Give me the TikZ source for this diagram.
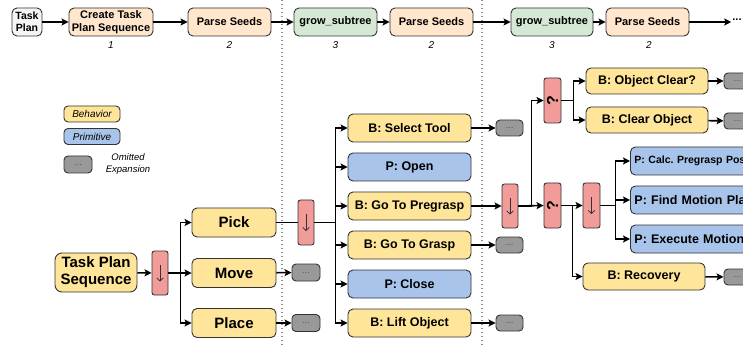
\documentclass[tikz,border=0pt]{standalone}
\usepackage{fontspec}
\setmainfont{Liberation Sans}
\usetikzlibrary{arrows.meta}
\definecolor{behY}{HTML}{FFE599}
\definecolor{primB}{HTML}{A9C4EB}
\definecolor{seqR}{HTML}{F19C99}
\definecolor{omG}{HTML}{999999}
\definecolor{peachT}{HTML}{FFE6CC}
\definecolor{greenT}{HTML}{D5E8D4}
\definecolor{tpG}{HTML}{F5F5F5}
\definecolor{edgeC}{HTML}{333333}
\frenchspacing
\begin{document}
\begin{tikzpicture}[x=1pt,y=-1pt,
 base/.style={draw=edgeC, line width=0.9pt, rounded corners=5pt, inner sep=0pt, align=center},
 beh/.style={base, fill=behY, minimum width=123pt, minimum height=28pt, font=\fontsize{12.5}{14}\selectfont\bfseries},
 prim/.style={beh, fill=primB},
 primclip/.style={prim, anchor=west, minimum width=135pt, text width=127pt, align=left},
 big/.style={base, fill=behY, minimum width=84pt, minimum height=29pt, font=\fontsize{15}{17}\selectfont\bfseries},
 omit/.style={base, fill=omG, rounded corners=4pt, minimum width=27pt, minimum height=16pt, font=\fontsize{9.5}{10}\selectfont\color{black!65}},
 redbox/.style={base, fill=seqR, rounded corners=2.5pt, minimum width=16pt, minimum height=44pt},
 seqbox/.style={redbox, path picture={\draw[line width=0.8pt, -{Straight Barb[length=3pt,width=6.5pt]}]
    ([yshift=8pt]path picture bounding box.center) -- ([yshift=-8.5pt]path picture bounding box.center);}},
 fbbox/.style={redbox, font=\fontsize{16}{18}\selectfont\bfseries},
 topbox/.style={base, minimum height=28pt, font=\fontsize{11}{12.5}\selectfont\bfseries},
 num/.style={font=\fontsize{10}{12}\selectfont\itshape},
 legbox/.style={base, rounded corners=4pt, minimum width=56pt, minimum height=16pt, font=\fontsize{10}{12}\selectfont\itshape},
 arr/.style={line width=1.6pt, -{Stealth[length=7pt,width=7pt,inset=1.5pt]}},
 plain/.style={line width=1.6pt},
 sep/.style={draw=black!45, line width=1.2pt, dash pattern=on 1.2pt off 2.8pt}
]
\clip (0,0) rectangle (743,347);
\fill[white] (0,0) rectangle (743,347);

% separators
\coordinate (sepAtop) at (282,0);
\coordinate (sepAbot) at (282,347);
\coordinate (sepBtop) at (482,0);
\coordinate (sepBbot) at (482,347);
\draw[sep] (sepAtop) -- (sepAbot);
\draw[sep] (sepBtop) -- (sepBbot);

% top row
\node[topbox, fill=tpG, minimum width=30pt, font=\fontsize{10.5}{12}\selectfont\bfseries] (tp) at (27,22) {Task\\Plan};
\node[topbox, fill=peachT, minimum width=84pt, font=\fontsize{11}{12.5}\selectfont\bfseries] (cts) at (111,22) {Create Task\\Plan Sequence};
\node[topbox, fill=peachT, minimum width=83pt] (ps1) at (229.5,22) {Parse Seeds};
\node[topbox, fill=greenT, minimum width=83pt] (gs1) at (335.5,22) {grow\_subtree};
\node[topbox, fill=peachT, minimum width=83pt] (ps2) at (431.5,22) {Parse Seeds};
\node[topbox, fill=greenT, minimum width=82pt] (gs2) at (552,22) {grow\_subtree};
\node[topbox, fill=peachT, minimum width=83pt] (ps3) at (647.5,22) {Parse Seeds};
\node[font=\fontsize{11}{12}\selectfont\bfseries, inner sep=1pt] (more) at (737,20) {...};
\node[num] (n1) at (111,45) {1};
\node[num] (n2) at (229.5,45) {2};
\node[num] (n3) at (335.5,45) {3};
\node[num] (n4) at (431.5,45) {2};
\node[num] (n5) at (552,45) {3};
\node[num] (n6) at (649,45) {2};
\draw[arr] (tp) -- (cts);
\draw[arr] (cts) -- (ps1);
\draw[arr] (ps1) -- (gs1);
\draw[arr] (gs1) -- (ps2);
\draw[arr] (ps2) -- (gs2);
\draw[arr] (gs2) -- (ps3);
\draw[arr] (ps3.east) -- (more.west |- ps3.east);

% legend
\node[legbox, fill=behY] (lb) at (92,114) {Behavior};
\node[legbox, fill=primB] (lp) at (92,136.5) {Primitive};
\node[omit, minimum width=28pt, minimum height=17pt] (lo) at (78,164.5) {...};
\node[font=\fontsize{9.5}{11.5}\selectfont\itshape, align=center] (lot) at (128,164) {Omitted\\Expansion};

% main tree
\node[big, minimum width=82pt, minimum height=39pt, rounded corners=7pt] (tps) at (96,272.5) {Task Plan\\Sequence};
\node[seqbox] (s1) at (160,273) {};
\node[big] (pick) at (234,222.5) {Pick};
\node[big] (move) at (234,273) {Move};
\node[big] (place) at (234,323) {Place};
\node[omit, minimum width=28pt, minimum height=17pt] (omMove) at (306,272.5) {...};
\node[omit, minimum width=28pt, minimum height=17pt] (omPlace) at (306,323) {...};
\node[seqbox, minimum height=45pt] (s2) at (306,222.5) {};

\draw[arr] (tps) -- (s1);
\draw[arr] (s1.east) -- ++(12,0) |- (pick.west);
\draw[arr] (s1.east) -- (move.west);
\draw[arr] (s1.east) -- ++(12,0) |- (place.west);
\draw[arr] (move) -- (omMove);
\draw[arr] (place) -- (omPlace);
\draw[plain] (pick) -- (s2);

\node[beh] (selt) at (409.5,128) {B: Select Tool};
\node[prim] (open) at (409.5,167) {P: Open};
\node[beh] (gtp) at (409.5,206) {B: Go To Pregrasp};
\node[beh] (gtg) at (409.5,245) {B: Go To Grasp};
\node[prim] (close) at (409.5,284) {P: Close};
\node[beh] (lift) at (409.5,323) {B: Lift Object};
\foreach \c in {selt,open,gtp,gtg,close,lift}
  \draw[arr] (s2.east) -- ++(21,0) |- (\c.west);

\node[omit] (omSel) at (509.5,128) {...};
\node[omit] (omGtg) at (509.5,245) {...};
\node[omit] (omLift) at (509.5,323) {...};
\draw[arr] (selt) -- (omSel);
\draw[arr] (gtg) -- (omGtg);
\draw[arr] (lift) -- (omLift);

\node[seqbox] (s3) at (510,206) {};
\draw[arr] (gtp) -- (s3);

\node[fbbox, minimum width=17pt, minimum height=45pt] (f1) at (552.5,100.5) {\rotatebox{90}{?}};
\node[fbbox, minimum width=17pt, minimum height=45pt] (f2) at (552.5,205.5) {\rotatebox{90}{?}};
\draw[arr] (s3.east) -- ++(13,0) |- (f1.west);
\draw[arr] (s3.east) -- (f2.west);

\node[beh, minimum width=122pt, minimum height=26pt] (oclr) at (647,81) {B: Object Clear?};
\node[beh, minimum width=122pt, minimum height=26pt] (clro) at (647,120) {B: Clear Object};
\draw[arr] (f1.east) -- ++(12,0) |- (oclr.west);
\draw[arr] (f1.east) -- ++(12,0) |- (clro.west);
\node[omit] (omOc) at (737.5,81) {...};
\node[omit] (omCo) at (737.5,121) {...};
\draw[arr] (oclr) -- (omOc);
\draw[arr] (clro) -- (omCo);

\node[seqbox, minimum width=17pt, minimum height=45pt] (s4) at (591.5,205.5) {};
\node[beh, minimum width=122pt, minimum height=27pt] (rec) at (644,276.5) {B: Recovery};
\draw[arr] (f2) -- (s4);
\draw[arr] (f2.east) -- ++(11,0) |- (rec.west);
\node[omit] (omRec) at (737.5,277) {...};
\draw[arr] (rec) -- (omRec);

\node[primclip, font=\fontsize{10.5}{12}\selectfont\bfseries, inner xsep=4pt] (calc) at (630,161) {P: Calc. Pregrasp Pose};
\node[primclip, inner xsep=4pt] (fmp) at (630,200) {P: Find Motion Plan};
\node[primclip, inner xsep=4pt] (exm) at (630,239) {P: Execute Motion};
\foreach \c in {calc,fmp,exm}
  \draw[arr] (s4.east) -- ++(15,0) |- (\c.west);
\end{tikzpicture}
\end{document}
